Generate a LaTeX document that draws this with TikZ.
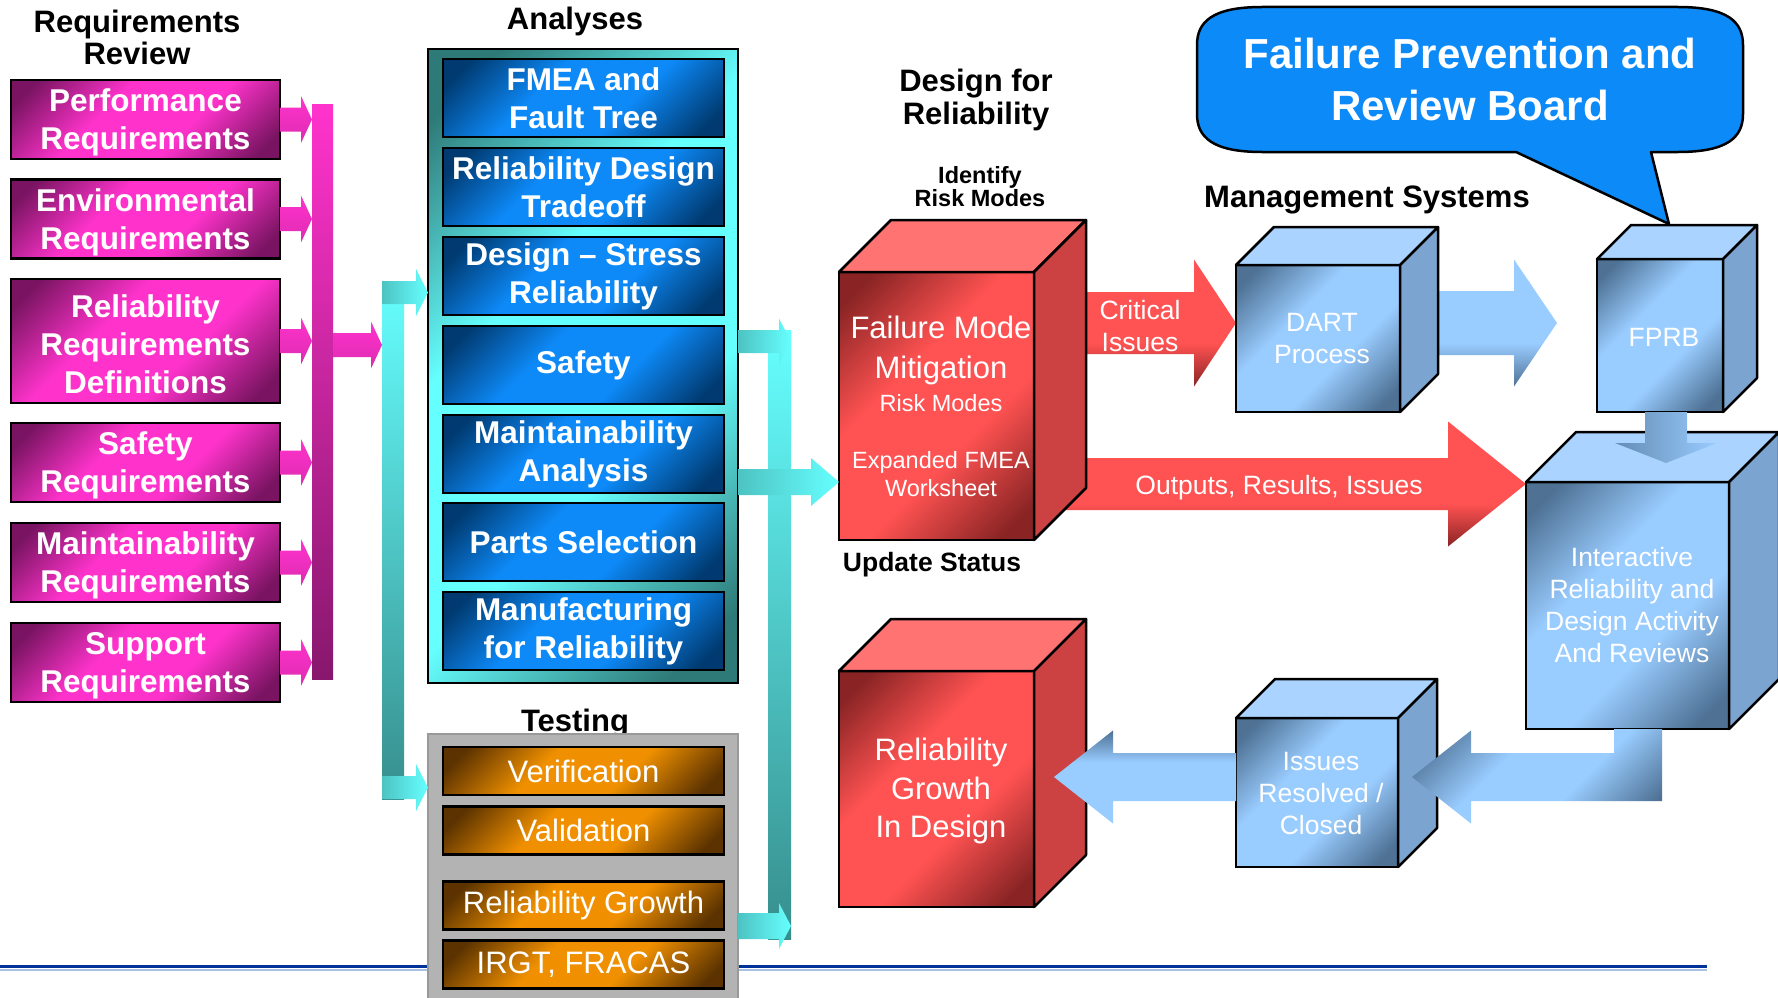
\documentclass[tikz,border=0pt]{standalone}
\usepackage{fontspec}
\setmainfont{Liberation Sans}
\usetikzlibrary{calc}
\pgfdeclarelayer{bg}
\pgfsetlayers{bg,main}

\definecolor{pB}{HTML}{FF33CC}
\definecolor{pD}{HTML}{7A1462}
\definecolor{bB}{HTML}{0D8AF8}
\definecolor{bD}{HTML}{003A70}
\definecolor{tB}{HTML}{66FFFF}
\definecolor{tD}{HTML}{2E7A78}
\definecolor{oB}{HTML}{F09000}
\definecolor{oD}{HTML}{5C3300}
\definecolor{rB}{HTML}{FF5252}
\definecolor{rD}{HTML}{8A2424}
\definecolor{rTop}{HTML}{FF7373}
\definecolor{rSide}{HTML}{CC4242}
\definecolor{lbB}{HTML}{99CCFF}
\definecolor{lbD}{HTML}{4E7194}
\definecolor{lbTop}{HTML}{AAD4FF}
\definecolor{lbSide}{HTML}{7BA5D0}
\definecolor{callout}{HTML}{0B8AF8}
\definecolor{testgray}{HTML}{B3B3B3}
\definecolor{testborder}{HTML}{999999}
\definecolor{linedark}{HTML}{003399}
\definecolor{linelight}{HTML}{A9C1E3}

\pgfdeclareverticalshading{pinkdiag}{100bp}{color(0bp)=(pD); color(20bp)=(pD); color(40bp)=(pB); color(60bp)=(pB); color(80bp)=(pD); color(100bp)=(pD)}
\pgfdeclareverticalshading{bluediag}{100bp}{color(0bp)=(bD); color(20bp)=(bD); color(40bp)=(bB); color(60bp)=(bB); color(80bp)=(bD); color(100bp)=(bD)}
\pgfdeclareverticalshading{orangediag}{100bp}{color(0bp)=(oD); color(20bp)=(oD); color(40bp)=(oB); color(60bp)=(oB); color(80bp)=(oD); color(100bp)=(oD)}
\pgfdeclareverticalshading{tealdiag}{100bp}{color(0bp)=(tD); color(20bp)=(tD); color(40bp)=(tB); color(60bp)=(tB); color(80bp)=(tD); color(100bp)=(tD)}
\pgfdeclareverticalshading{reddiag}{100bp}{color(0bp)=(rD); color(20bp)=(rD); color(40bp)=(rB); color(60bp)=(rB); color(80bp)=(rD); color(100bp)=(rD)}
\pgfdeclareverticalshading{lbdiag}{100bp}{color(0bp)=(lbD); color(20bp)=(lbD); color(40bp)=(lbB); color(60bp)=(lbB); color(80bp)=(lbD); color(100bp)=(lbD)}
\pgfdeclareverticalshading{redarr}{100bp}{color(0bp)=(rD); color(25bp)=(rD); color(42bp)=(rB); color(100bp)=(rB)}
\pgfdeclareverticalshading{lbarrB}{100bp}{color(0bp)=(lbD); color(25bp)=(lbD); color(42bp)=(lbB); color(100bp)=(lbB)}
\pgfdeclareverticalshading{lbarrT}{100bp}{color(0bp)=(lbB); color(58bp)=(lbB); color(75bp)=(lbD); color(100bp)=(lbD)}

% right-pointing block arrow: style, start, tip, shaft half, head half, head length
\newcommand\blockR[6]{%
  \path[#1] let \p1=(#2), \p2=(#3) in
    (\x1,\y2+#4pt) -- (\x2-#6pt,\y2+#4pt) -- (\x2-#6pt,\y2+#5pt) -- (\x2,\y2)
    -- (\x2-#6pt,\y2-#5pt) -- (\x2-#6pt,\y2-#4pt) -- (\x1,\y2-#4pt) -- cycle;}
\newcommand\blockL[6]{%
  \path[#1] let \p1=(#2), \p2=(#3) in
    (\x1,\y2+#4pt) -- (\x2+#6pt,\y2+#4pt) -- (\x2+#6pt,\y2+#5pt) -- (\x2,\y2)
    -- (\x2+#6pt,\y2-#5pt) -- (\x2+#6pt,\y2-#4pt) -- (\x1,\y2-#4pt) -- cycle;}
\newcommand\blockD[6]{%
  \path[#1] let \p1=(#2), \p2=(#3) in
    (\x2-#4pt,\y1) -- (\x2+#4pt,\y1) -- (\x2+#4pt,\y2+#6pt) -- (\x2+#5pt,\y2+#6pt)
    -- (\x2,\y2) -- (\x2-#5pt,\y2+#6pt) -- (\x2-#4pt,\y2+#6pt) -- cycle;}
% cube: name, cx, cy, w, h, depth, front shading, top colour, side colour
\newcommand\mycube[9]{%
  \node[draw=black, line width=2.5pt, shade, shading=#7, shading angle=45,
        minimum width=#4pt, minimum height=#5pt] (#1) at (#2,#3) {};
  \draw[line width=2.5pt, line join=round, fill=#8] (#1.north west) -- ++(#6,-#6) -- ++(#4,0) -- (#1.north east) -- cycle;
  \draw[line width=2.5pt, line join=round, fill=#9] (#1.north east) -- ++(#6,-#6) -- ++(0,#5) -- (#1.south east) -- cycle;}

\begin{document}
\begin{tikzpicture}[x=1pt,y=-1pt,
  every node/.style={inner sep=0pt, outer sep=0pt},
  ttl/.style={text=black, align=center, font=\bfseries\fontsize{31}{32}\selectfont},
  reqbox/.style={draw=black, line width=2.5pt, shade, shading=pinkdiag, shading angle=45,
    minimum width=269pt, minimum height=79pt},
  reqtext/.style={text=white, align=center, font=\bfseries\fontsize{31.5}{38}\selectfont},
  abox/.style={draw=black, line width=2.5pt, shade, shading=bluediag, shading angle=45,
    minimum width=281pt, minimum height=78pt, text=white, align=center,
    font=\bfseries\fontsize{31.5}{38}\selectfont},
  obox/.style={draw=black, line width=2.5pt, shade, shading=orangediag, shading angle=45,
    minimum width=281pt, minimum height=48pt, text=white, align=center,
    font=\fontsize{31}{36}\selectfont},
  cubetext/.style={text=white, align=center, font=\fontsize{26.5}{32}\selectfont},
  pinkbar/.style={shade, top color=pB, bottom color=pD!90!pB, minimum width=21pt, minimum height=575pt},
  cyanbar/.style={shade, top color=tB, bottom color=tD!85!tB, minimum width=22pt},
  pinkarrow/.style={shade, top color=pB, bottom color=pB!75!pD},
  cyanarrow/.style={shade, left color=tB!55!tD, right color=tB},
  redarrow/.style={shade, shading=redarr},
  lbarrowB/.style={shade, shading=lbarrB},
  lbarrowT/.style={shade, shading=lbarrT},
  lbarrowD/.style={shade, left color=lbD!70!lbB, right color=lbB}
]
\clip (0,0) rectangle (1778,998);
\begin{pgfonlayer}{bg}
\fill[white] (0,0) rectangle (1778,998);
\end{pgfonlayer}

% bottom rule
\coordinate (lineL) at (0,966.5);
\coordinate (lineR) at (1707,966.5);
\draw[linelight, line width=2pt] ($(lineL)+(0,3)$) -- ($(lineR)+(0,3)$);
\draw[linedark, line width=3pt] (lineL) -- (lineR);

% titles
\node[ttl] (tReq) at (137,37) {Requirements\\Review};
\node[ttl] (tAna) at (575,21) {Analyses};
\node[ttl] (tTest) at (575,724) {Testing};
\node[ttl, font=\bfseries\fontsize{31}{33}\selectfont] (tDfr) at (976,100) {Design for\\Reliability};
\node[ttl, font=\bfseries\fontsize{23.5}{23}\selectfont] (tIdr) at (980,187) {Identify\\Risk Modes};
\node[ttl, font=\bfseries\fontsize{26.5}{30}\selectfont] (tUpd) at (932,565) {Update Status};
\node[ttl] (tMgmt) at (1367,200) {Management Systems};

% analyses frame and testing frame
\node[draw=black, line width=2.5pt, shade, shading=tealdiag, shading angle=45,
      minimum width=310pt, minimum height=634pt] (anal) at (583,366) {};
\node[draw=testborder, line width=2.5pt, fill=testgray,
      minimum width=310pt, minimum height=280pt] (test) at (583,874) {};

\node[abox] (a1) at (583.5,98) {FMEA and\\Fault Tree};
\node[abox] (a2) at (583.5,187) {Reliability Design\\Tradeoff};
\node[abox] (a3) at (583.5,276) {Design – Stress\\Reliability};
\node[abox] (a4) at (583.5,365) {Safety};
\node[abox] (a5) at (583.5,454) {Maintainability\\Analysis};
\node[abox] (a6) at (583.5,542) {Parts Selection};
\node[abox] (a7) at (583.5,631) {Manufacturing\\for Reliability};

\node[obox] (o1) at (583.5,771) {Verification};
\node[obox] (o2) at (583.5,830.5) {Validation};
\node[obox] (o3) at (583.5,905.5) {Reliability Growth};
\node[obox] (o4) at (583.5,964.5) {IRGT, FRACAS};

% left cyan bracket
\node[cyanbar, minimum height=518pt] (cbarL) at (393,540) {};
\coordinate (cLtop) at (393,292.5);
\coordinate (cLbot) at (393,787.5);
\blockR{cyanarrow}{cbarL.west}{anal.west |- cLtop}{11.5}{23.5}{12}
\blockR{cyanarrow}{cbarL.west}{test.west |- cLbot}{11.5}{23.5}{12}

% requirement boxes and pink connectors
\node[pinkbar] (pbar) at (322.5,391.5) {};
\foreach \i/\yy/\hh/\txt in {1/119.5/79/{Performance\\Requirements},
    2/219/79/{Environmental\\Requirements},
    3/341/124/{Reliability\\Requirements\\Definitions},
    4/462.5/79/{Safety\\Requirements},
    5/562.5/79/{Maintainability\\Requirements},
    6/662.5/79/{Support\\Requirements}}{
  \node[reqbox, minimum height=\hh pt] (p\i) at (145.5,\yy) {};
  \node[reqtext] (pt\i) at ($(p\i)+(0,3)$) {\txt};
}
\foreach \i in {1,...,6}{
  \blockR{pinkarrow}{p\i.east}{pbar.west |- p\i.east}{12}{23.5}{11}
}
\coordinate (pOut) at (322.5,345);
\blockR{pinkarrow}{pbar.east}{cbarL.west |- pOut}{12}{23.5}{11}

% cubes
\mycube{fmm}{936.5}{406}{195}{268}{52}{reddiag}{rTop}{rSide}
\mycube{rgd}{936.5}{789}{195}{236}{52}{reddiag}{rTop}{rSide}
\mycube{dart}{1318}{338.5}{164}{147}{38}{lbdiag}{lbTop}{lbSide}
\mycube{fprb}{1660}{335.5}{126}{153}{34}{lbdiag}{lbTop}{lbSide}
\mycube{ird}{1627.5}{605.5}{203}{247}{50}{lbdiag}{lbTop}{lbSide}
\mycube{iss}{1317}{792.5}{162}{149}{39}{lbdiag}{lbTop}{lbSide}

% right cyan bracket
\node[cyanbar, minimum width=23pt, minimum height=609pt] (cbarR) at (779.5,634.5) {};
\coordinate (cRtop) at (779.5,341.5);
\coordinate (cRmid) at (779.5,482);
\coordinate (cRbot) at (779.5,926);
\blockR{cyanarrow}{anal.east}{cbarR.east |- cRtop}{11.5}{23}{12}
\blockR{cyanarrow}{test.east}{cbarR.east |- cRbot}{13}{23}{12}
\blockR{cyanarrow}{anal.east}{fmm.west |- cRmid}{13}{24}{28}

% arrows behind the cubes
\coordinate (crit) at (1140,323);
\coordinate (outs) at (1279,484);
\coordinate (dtfTip) at (1557,323);
\begin{pgfonlayer}{bg}
\blockR{redarrow}{fmm.east}{dart.west |- crit}{31}{63.5}{42}
\blockR{redarrow}{fmm.east}{ird.west |- outs}{26}{62.5}{78}
\blockR{lbarrowB}{dart.east}{dtfTip}{32}{63.5}{43}
\end{pgfonlayer}

% arrows over the cubes
\coordinate (ftiTip) at (1666,463);
\blockD{lbarrowD}{fprb.south}{ftiTip}{21}{51}{20}
\coordinate (irdTip) at (1412,777);
\path[shade, shading=lbdiag, shading angle=45] let \p1=(ird.south), \p2=(irdTip) in
  (\x1-13.5pt,\y1) -- (\x1+34.5pt,\y1) -- (\x1+34.5pt,\y2-24pt) -- (\x2+59pt,\y2-24pt)
  -- (\x2+59pt,\y2-46.5pt) -- (\x2,\y2) -- (\x2+59pt,\y2+46.5pt) -- (\x2+59pt,\y2+24pt)
  -- (\x1-13.5pt,\y2+24pt) -- cycle;
\coordinate (rgTip) at (1054,777);
\blockL{lbarrowT}{iss.west}{rgTip}{24}{46.5}{59}

% callout
\coordinate (tailtip) at ($(fprb.north)+(9,-35)$);
\draw[line width=2.5pt, fill=callout, line join=round]
  (1262,7) -- (1678,7) .. controls (1728,7) and (1743,22) .. (1743,45) -- (1743,114)
  .. controls (1743,137) and (1728,152) .. (1678,152) -- (1651,152) -- (tailtip)
  -- (1516,152) -- (1262,152) .. controls (1212,152) and (1197,137) .. (1197,114)
  -- (1197,45) .. controls (1197,22) and (1212,7) .. (1262,7) -- cycle;
\node[text=white, align=center, font=\bfseries\fontsize{42}{52}\selectfont] (cbT) at (1470,79) {Failure Prevention and\\Review Board};

% cube and arrow texts
\node[cubetext, font=\fontsize{31}{40}\selectfont] (fmmT1) at (941,350) {Failure Mode\\Mitigation};
\node[cubetext, font=\fontsize{23.5}{28}\selectfont] (fmmT2) at (941,403) {Risk Modes};
\node[cubetext, font=\fontsize{23.5}{28}\selectfont] (fmmT3) at (941,474) {Expanded FMEA\\Worksheet};
\node[cubetext, font=\fontsize{31}{38.5}\selectfont] (rgdT) at (941,791) {Reliability\\Growth\\In Design};
\node[cubetext] (dartT) at (1322,339) {DART\\Process};
\node[cubetext] (fprbT) at (1664,337) {FPRB};
\node[cubetext] (irdT) at (1632,605) {Interactive\\Reliability and\\Design Activity\\And Reviews};
\node[cubetext] (issT) at (1321,794) {Issues\\Resolved /\\Closed};
\node[cubetext] (critT) at (1140,326) {Critical\\Issues};
\node[cubetext] (outT) at (1279,488) {Outputs, Results, Issues};
\end{tikzpicture}
\end{document}
